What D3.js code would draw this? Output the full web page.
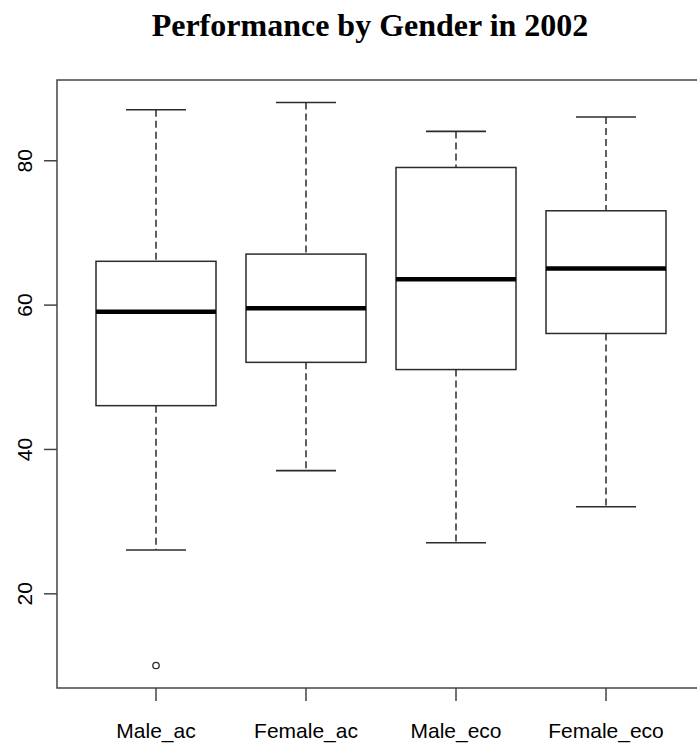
<!DOCTYPE html>
<html>
<head>
<meta charset="utf-8">
<script src="https://cdn.jsdelivr.net/npm/d3@7"></script>
<style>
  body { margin: 0; background: #fff; }
  svg { display: block; }
</style>
</head>
<body>
<svg id="chart" width="697" height="749"></svg>
<script>
// datos
var categorias = ["Male_ac", "Female_ac", "Male_eco", "Female_eco"];
var bigoteInf = [26, 37, 27, 32];
var cuartil1 = [46, 52, 51, 56];
var mediana = [59, 59.5, 63.5, 65];
var cuartil3 = [66, 67, 79, 73];
var bigoteSup = [87, 88, 84, 86];
var atipicos = [[10], [], [], []];
var marcasY = [20, 40, 60, 80];

var svg = d3.select("#chart");
var izq = 57, der = 705, arriba = 80, abajo = 688;
var color = "#2b2b2b";

var x = d3.scaleBand()
    .domain(categorias)
    .range([izq, der])
    .paddingInner(0)
    .paddingOuter(0.16);

var y = d3.scaleLinear()
    .domain([6.88, 91.12])
    .range([abajo, arriba]);

var ancho = x.bandwidth() * 0.8;

// titulo
svg.append("text")
    .attr("x", 370)
    .attr("y", 36)
    .attr("text-anchor", "middle")
    .attr("font-family", "Liberation Serif, Times New Roman, serif")
    .attr("font-weight", "bold")
    .attr("font-size", 32)
    .attr("fill", "#000")
    .text("Performance by Gender in 2002");

// marco
svg.append("rect")
    .attr("x", izq)
    .attr("y", arriba)
    .attr("width", der - izq)
    .attr("height", abajo - arriba)
    .attr("fill", "none")
    .attr("stroke", "#444")
    .attr("stroke-width", 1.5);

// eje y
var ejeY = svg.append("g")
    .attr("transform", "translate(" + izq + ",0)")
    .call(d3.axisLeft(y).tickValues(marcasY).tickSize(13).tickPadding(0));
ejeY.select(".domain").remove();
ejeY.selectAll(".tick line").attr("stroke", "#444").attr("stroke-width", 1.5);
ejeY.selectAll(".tick text")
    .attr("x", null)
    .attr("dy", null)
    .attr("transform", "translate(-25,0) rotate(-90)")
    .attr("text-anchor", "middle")
    .attr("font-family", "Liberation Sans, Arial, sans-serif")
    .attr("font-size", 21)
    .attr("fill", "#000");

// eje x
var ejeX = svg.append("g")
    .attr("transform", "translate(0," + abajo + ")")
    .call(d3.axisBottom(x).tickSize(13).tickPadding(0));
ejeX.select(".domain").remove();
ejeX.selectAll(".tick line").attr("stroke", "#444").attr("stroke-width", 1.5);
ejeX.selectAll(".tick text")
    .attr("y", 50)
    .attr("dy", null)
    .attr("font-family", "Liberation Sans, Arial, sans-serif")
    .attr("font-size", 21)
    .attr("fill", "#000");

// cajas
var cajas = svg.append("g").selectAll("g")
    .data(categorias)
    .join("g")
    .attr("transform", function (d) { return "translate(" + (x(d) + x.bandwidth() / 2) + ",0)"; });

// bigotes punteados
cajas.append("line")
    .attr("y1", function (d, i) { return y(bigoteSup[i]); })
    .attr("y2", function (d, i) { return y(cuartil3[i]); })
    .attr("stroke", color).attr("stroke-width", 1.5).attr("stroke-dasharray", "7,4");
cajas.append("line")
    .attr("y1", function (d, i) { return y(cuartil1[i]); })
    .attr("y2", function (d, i) { return y(bigoteInf[i]); })
    .attr("stroke", color).attr("stroke-width", 1.5).attr("stroke-dasharray", "7,4");

// topes
cajas.append("line")
    .attr("x1", -ancho / 4).attr("x2", ancho / 4)
    .attr("y1", function (d, i) { return y(bigoteSup[i]); })
    .attr("y2", function (d, i) { return y(bigoteSup[i]); })
    .attr("stroke", color).attr("stroke-width", 1.6);
cajas.append("line")
    .attr("x1", -ancho / 4).attr("x2", ancho / 4)
    .attr("y1", function (d, i) { return y(bigoteInf[i]); })
    .attr("y2", function (d, i) { return y(bigoteInf[i]); })
    .attr("stroke", color).attr("stroke-width", 1.6);

// caja
cajas.append("rect")
    .attr("x", -ancho / 2)
    .attr("width", ancho)
    .attr("y", function (d, i) { return y(cuartil3[i]); })
    .attr("height", function (d, i) { return y(cuartil1[i]) - y(cuartil3[i]); })
    .attr("fill", "#fff")
    .attr("stroke", color)
    .attr("stroke-width", 1.5);

// mediana
cajas.append("line")
    .attr("x1", -ancho / 2).attr("x2", ancho / 2)
    .attr("y1", function (d, i) { return y(mediana[i]); })
    .attr("y2", function (d, i) { return y(mediana[i]); })
    .attr("stroke", "#000").attr("stroke-width", 4.5);

// atipicos
cajas.selectAll("circle")
    .data(function (d, i) { return atipicos[i]; })
    .join("circle")
    .attr("cx", 0)
    .attr("cy", function (v) { return y(v); })
    .attr("r", 3.2)
    .attr("fill", "none")
    .attr("stroke", color)
    .attr("stroke-width", 1.3);
</script>
</body>
</html>
